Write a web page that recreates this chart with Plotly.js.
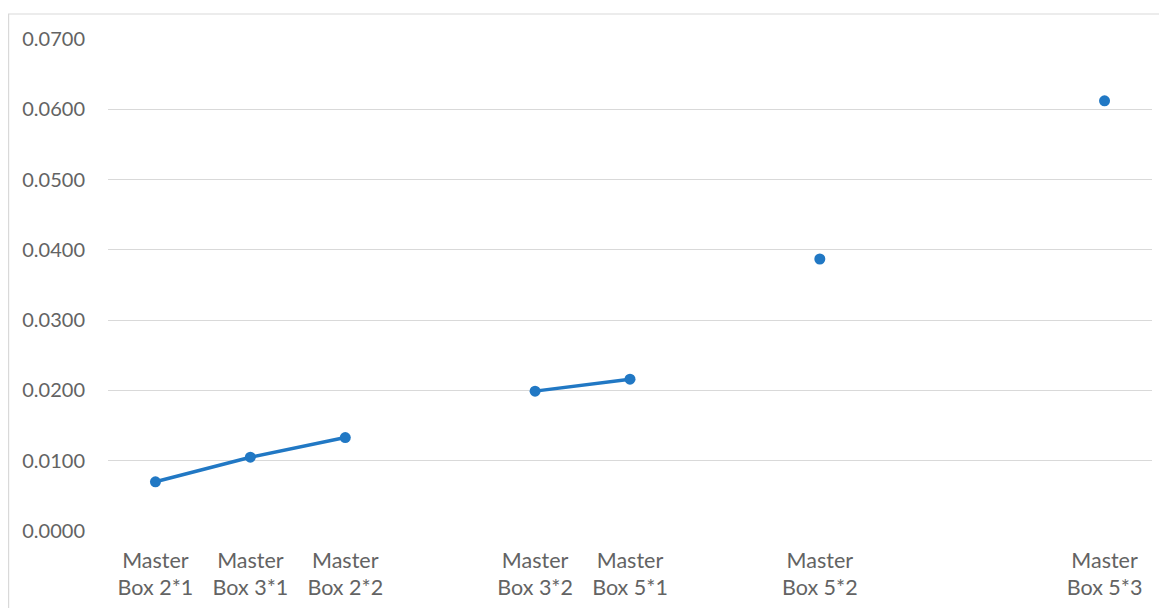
<!DOCTYPE html>
<html>
<head>
<meta charset="utf-8">
<script src="https://cdn.plot.ly/plotly-3.0.1.min.js"></script>
<style>
  html, body { margin: 0; padding: 0; background: #ffffff; }
  #chart { width: 1159px; height: 608px; }
</style>
</head>
<body>
<div id="chart"></div>
<script>
// Category slots along the x axis; empty slots stay blank on the axis
const categories = [
  "Master<br>Box 2*1", "Master<br>Box 3*1", "Master<br>Box 2*2", "",
  "Master<br>Box 3*2", "Master<br>Box 5*1", "",
  "Master<br>Box 5*2", "", "", "Master<br>Box 5*3"
];
// One value per slot; null leaves a gap in the line
const values = [0.0070, 0.0105, 0.0133, null, 0.0199, 0.0216, null, 0.0387, null, null, 0.0612];
const yTicks = [0, 0.01, 0.02, 0.03, 0.04, 0.05, 0.06, 0.07];

const slots = categories.map((_, i) => i);

const trace = {
  x: slots,
  y: values,
  type: "scatter",
  mode: "lines+markers",
  connectgaps: false,
  line: { color: "#2178c4", width: 3.5 },
  marker: { color: "#2178c4", size: 11 },
  hoverinfo: "skip"
};

const fontFamily = "Lato, 'Open Sans', sans-serif";
const textGray = "#636363";

const layout = {
  width: 1159,
  height: 608,
  margin: { l: 107.5, r: 6.5, t: 39, b: 77, pad: 0 },
  paper_bgcolor: "#ffffff",
  plot_bgcolor: "#ffffff",
  showlegend: false,
  xaxis: {
    range: [-0.5, categories.length - 0.5],
    tickmode: "array",
    tickvals: slots,
    ticktext: categories,
    showgrid: false,
    zeroline: false,
    showline: false,
    ticks: "",
    tickfont: { family: fontFamily, size: 21.5, color: textGray },
    ticklabelstandoff: 14
  },
  yaxis: {
    range: [0, 0.07],
    tickmode: "array",
    tickvals: yTicks,
    tickformat: ".4f",
    showgrid: true,
    gridcolor: "#d9d9d9",
    gridwidth: 1,
    zeroline: false,
    showline: false,
    ticks: "",
    tickfont: { family: fontFamily, size: 20, color: textGray },
    ticklabelstandoff: 22
  },
  shapes: [{
    type: "rect",
    xref: "paper", yref: "paper",
    x0: (8 - 107.5) / 1045, x1: 1.2,
    y0: -0.5, y1: 1 + (39 - 14) / 492,
    line: { color: "#d9d9d9", width: 1.2 },
    fillcolor: "rgba(0,0,0,0)",
    layer: "below"
  }]
};

Plotly.newPlot("chart", [trace], layout, { displayModeBar: false, staticPlot: true });
</script>
</body>
</html>
